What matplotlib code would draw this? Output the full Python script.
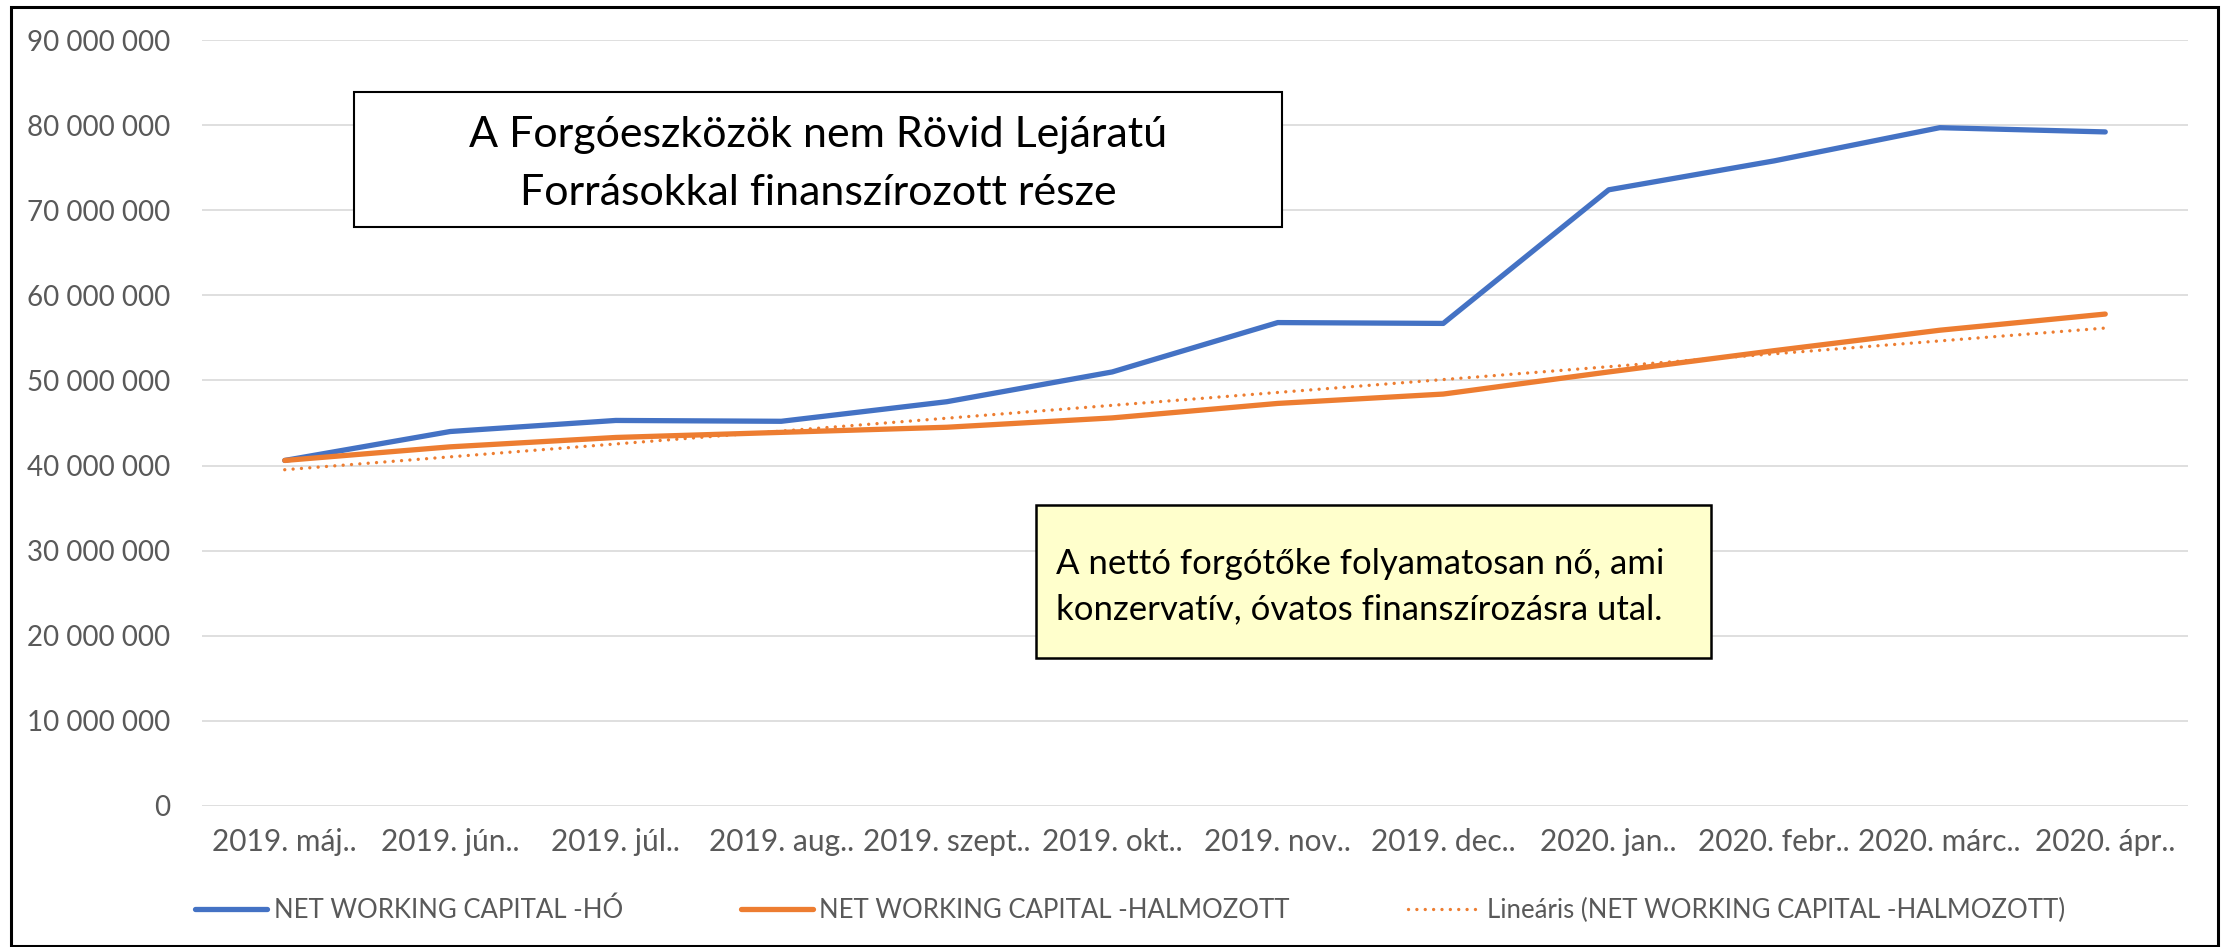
import numpy as np
import matplotlib
matplotlib.use("Agg")
import matplotlib.pyplot as plt
from matplotlib.patches import Rectangle
from matplotlib.ticker import FuncFormatter

plt.rcParams['font.family'] = ['Lato', 'DejaVu Sans']

# Data
months = ['2019. máj..', '2019. jún..', '2019. júl..', '2019. aug..', '2019. szept..',
          '2019. okt..', '2019. nov..', '2019. dec..', '2020. jan..', '2020. febr..',
          '2020. márc..', '2020. ápr..']
nwc_ho = [40.6e6, 44.0e6, 45.3e6, 45.2e6, 47.5e6, 51.0e6, 56.8e6, 56.7e6,
          72.4e6, 75.8e6, 79.7e6, 79.2e6]
nwc_halm = [40.6e6, 42.2e6, 43.3e6, 43.9e6, 44.5e6, 45.6e6, 47.3e6, 48.4e6,
            51.0e6, 53.5e6, 55.9e6, 57.8e6]
series_names = ['NET WORKING CAPITAL -HÓ', 'NET WORKING CAPITAL -HALMOZOTT',
                'Lineáris (NET WORKING CAPITAL -HALMOZOTT)']
title_lines = ['A Forgóeszközök nem Rövid Lejáratú', 'Forrásokkal finanszírozott része']
note_lines = ['A nettó forgótőke folyamatosan nő, ami', 'konzervatív, óvatos finanszírozásra utal.']

BLUE = '#4472C4'
ORANGE = '#ED7D31'
GRAY = '#595959'

W, H = 2221, 947
fig = plt.figure(figsize=(W / 100, H / 100), dpi=100)


def fx(px):
    return px / W


def fy(py):
    return 1 - py / H


# plot area
ax = fig.add_axes([fx(202), fy(806), fx(2188) - fx(202), fy(40) - fy(806)])
x = np.arange(len(months))

ax.plot(x, nwc_ho, color=BLUE, lw=3.8, solid_capstyle='round', solid_joinstyle='round',
        label=series_names[0], zorder=3)
ax.plot(x, nwc_halm, color=ORANGE, lw=3.8, solid_capstyle='round', solid_joinstyle='round',
        label=series_names[1], zorder=3)

# linear trendline of the cumulative series (like Excel's)
k, b = np.polyfit(x, nwc_halm, 1)
trend, = ax.plot(x, k * x + b, color=ORANGE, lw=2.4, dash_capstyle='round',
                 label=series_names[2], zorder=2)
trend.set_dashes((0.01, 2.5))

ax.set_xlim(-0.5, len(months) - 0.5)
ax.set_ylim(0, 90e6)
ax.set_yticks(np.arange(0, 90e6 + 1, 10e6))
ax.yaxis.set_major_formatter(FuncFormatter(lambda v, p: f"{v:,.0f}".replace(",", " ")))
ax.set_xticks(x)
ax.set_xticklabels(months)
ax.tick_params(axis='y', length=0, pad=23, labelsize=20, labelcolor=GRAY)
ax.tick_params(axis='x', length=0, pad=16, labelsize=21.5, labelcolor=GRAY)
ax.grid(axis='y', color='#d9d9d9', lw=1.2)
ax.set_axisbelow(True)
for s in ax.spines.values():
    s.set_visible(False)

# legend
leg = fig.legend(handles=ax.get_lines(), loc='center', ncol=3,
                 bbox_to_anchor=(fx(1130), fy(910)), frameon=False, fontsize=18.5,
                 handlelength=2.8, handletextpad=0.25, columnspacing=4.6,
                 labelcolor=GRAY)

# title box
fig.patches.append(Rectangle((fx(354), fy(227)), fx(1282) - fx(354), fy(92) - fy(227),
                             transform=fig.transFigure, facecolor='white',
                             edgecolor='black', lw=1.5, zorder=5))
fig.text(fx(818), fy(147), title_lines[0], ha='center', va='baseline', fontsize=31,
         color='black', zorder=6)
fig.text(fx(818), fy(205), title_lines[1], ha='center', va='baseline', fontsize=31,
         color='black', zorder=6)

# comment box
fig.patches.append(Rectangle((fx(1036), fy(658)), fx(1711) - fx(1036), fy(505) - fy(658),
                             transform=fig.transFigure, facecolor='#FFFFCC',
                             edgecolor='black', lw=1.8, zorder=5))
fig.text(fx(1056), fy(574), note_lines[0], ha='left', va='baseline', fontsize=25,
         color='black', zorder=6)
fig.text(fx(1056), fy(619), note_lines[1], ha='left', va='baseline', fontsize=25,
         color='black', zorder=6)

# outer chart border
fig.patches.append(Rectangle((fx(11), fy(946)), fx(2218) - fx(11), fy(7) - fy(946),
                             transform=fig.transFigure, facecolor='none',
                             edgecolor='black', lw=2.2, zorder=10))

fig.savefig('out.png', dpi=100)
